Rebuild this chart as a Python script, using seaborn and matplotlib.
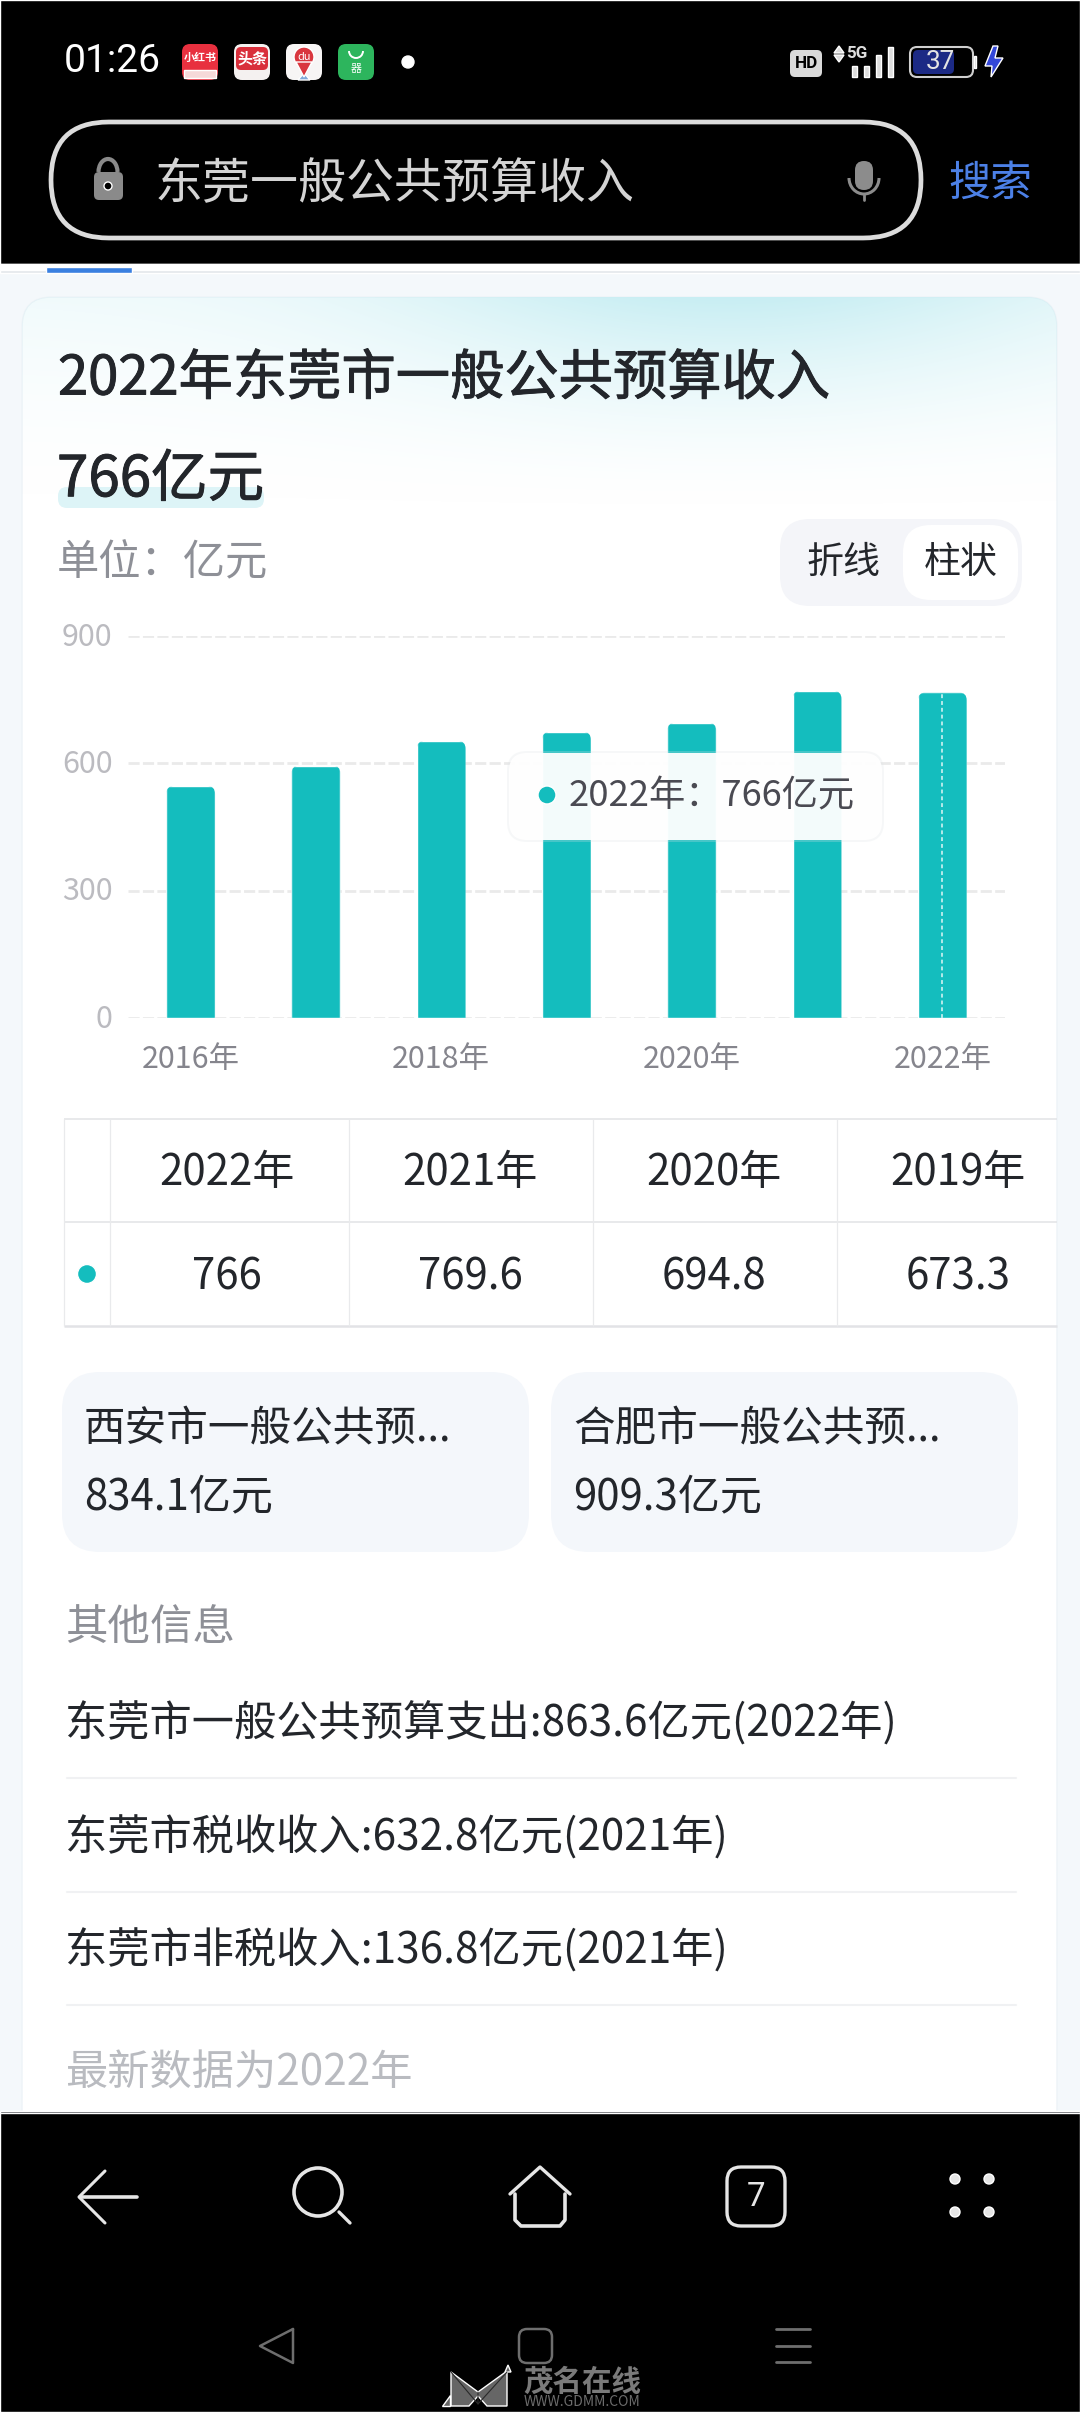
import numpy as np
import pandas as pd
import seaborn as sns
import matplotlib
matplotlib.use("Agg")
import matplotlib.pyplot as plt
import matplotlib.patheffects as pe
from matplotlib.patches import FancyBboxPatch, Circle, Polygon, Rectangle, Arc
from matplotlib.transforms import IdentityTransform, ScaledTranslation

# Revenue series, in 100 million yuan
years = ["2016年", "2017年", "2018年", "2019年", "2020年", "2021年", "2022年"]
revenue = [546.0, 594.0, 652.0, 673.3, 694.8, 769.6, 766.0]
y_ticks = [0, 300, 600, 900]
shown_year_labels = ["2016年", "", "2018年", "", "2020年", "", "2022年"]

# Year table, newest first
table_years = ["2022年", "2021年", "2020年", "2019年"]
table_values = ["766", "769.6", "694.8", "673.3"]

# Related cities and other facts
city_titles = ["西安市一般公共预...", "合肥市一般公共预..."]
city_values = ["834.1亿元", "909.3亿元"]
other_facts = [
    "东莞市一般公共预算支出:863.6亿元(2022年)",
    "东莞市税收收入:632.8亿元(2021年)",
    "东莞市非税收入:136.8亿元(2021年)",
]

TEAL = "#14BDBE"
INK = "#23262B"
MUTED = "#8E9097"
W, H = 1080, 2412
TEXT_DROP = 6  # CJK line boxes sit high when centred, nudge them down

sns.set_theme(style="white")
plt.rcParams["font.family"] = ["Noto Sans CJK SC", "DejaVu Sans"]
plt.rcParams["axes.unicode_minus"] = False

fig = plt.figure(figsize=(W / 100, H / 100), dpi=100, facecolor="#F4F8FB")
MEDIUM = [pe.withStroke(linewidth=0.7, foreground=INK)]


def pixel_axes(zorder):
    a = fig.add_axes([0, 0, 1, 1], zorder=zorder)
    a.set_xlim(0, W)
    a.set_ylim(H, 0)
    a.axis("off")
    a.patch.set_alpha(0)
    return a


bg = pixel_axes(0)
fg = pixel_axes(5)


def text(a, x, y, s, px, color=INK, ha="left", weight="normal", **kw):
    return a.text(x, y + TEXT_DROP, s, fontsize=px * 0.72, color=color, ha=ha, va="center",
                  fontweight=weight, **kw)


def rrect(a, x0, y0, x1, y1, r, fc="none", ec="none", lw=0, zorder=2, **kw):
    p = FancyBboxPatch((x0 + r, y0 + r), x1 - x0 - 2 * r, y1 - y0 - 2 * r,
                       boxstyle=f"round,pad={r},rounding_size={r}",
                       fc=fc, ec=ec, lw=lw, zorder=zorder, **kw)
    a.add_patch(p)
    return p


def stroke(a, xs, ys, color="#E6E6E6", lw=2.0, zorder=6, **kw):
    a.plot(xs, ys, color=color, lw=lw, solid_capstyle="round",
           solid_joinstyle="round", zorder=zorder, **kw)


# Page bands
bg.add_patch(Rectangle((0, 0), W, 264, fc="black", zorder=1))
bg.add_patch(Rectangle((0, 264), W, 6, fc="white", zorder=1))
bg.add_patch(Rectangle((0, 270), W, 3, fc="#E3E7EA", zorder=1))
bg.add_patch(Rectangle((46, 267), 86, 6, fc="#3A80E0", zorder=1.5))

# Card with a soft tinted wash along its top edge
card = rrect(bg, 22, 297, 1057, 2300, 30, fc="white", ec="#EDF3F7", lw=1.0, zorder=1.6)
gy, gx = np.mgrid[297:530, 22:1057]
wash_alpha = np.clip(1 - (gy - 297) / 215, 0, 1) ** 1.7 * (
    0.25 + 0.75 * np.exp(-(((gx - 730) / 340.0) ** 2)))
wash = np.zeros(gx.shape + (4,))
wash[..., :3] = matplotlib.colors.to_rgb("#C8EEF3")
wash[..., 3] = wash_alpha
im = bg.imshow(wash, extent=(22, 1057, 530, 297), aspect="auto", zorder=1.7,
               interpolation="bilinear")
im.set_clip_path(card)
bg.set_xlim(0, W)
bg.set_ylim(H, 0)

# Status bar
text(fg, 64, 56, "01:26", 39, color="white", family="Roboto")

# App badges
rrect(fg, 182, 44, 218, 80, 8, fc="#E8303F", zorder=3)
fg.add_patch(Rectangle((184, 70), 32, 8, fc="#F6D9D9", zorder=3.5))
text(fg, 200, 52, "小红书", 11, color="white", ha="center", weight="bold", zorder=4)
rrect(fg, 234, 44, 270, 80, 8, fc="#F4F1F0", zorder=3)
rrect(fg, 236, 47, 268, 70, 5, fc="#D92F3B", zorder=3.2)
text(fg, 252, 52, "头条", 15, color="white", ha="center", weight="bold", zorder=4)
rrect(fg, 286, 44, 322, 80, 8, fc="#F7F5F5", zorder=3)
fg.add_patch(Circle((304, 57), 10, fc="#D9363E", zorder=3.5))
fg.add_patch(Polygon([(296, 62), (312, 62), (304, 77)], fc="#D9363E", zorder=3.5))
fg.add_patch(Polygon([(298, 80), (310, 80), (304, 73)], fc="#7FA8D8", zorder=3.4))
text(fg, 304, 51, "du", 11, color="white", ha="center", zorder=4)
rrect(fg, 338, 44, 374, 80, 8, fc="#2DB55D", zorder=3)
fg.add_patch(Arc((356, 51), 14, 14, theta1=0, theta2=180, ec="white", lw=1.4, zorder=4,
                 transform=fg.transData))
text(fg, 356, 63, "器", 11, color="white", ha="center", zorder=4)
fg.add_patch(Circle((408, 62), 6, fc="white", zorder=4))

# Status indicators
rrect(fg, 790, 50, 822, 77, 5, fc="#DADADA", zorder=3)
text(fg, 806, 57, "HD", 17, color="black", ha="center", weight="bold", zorder=4, family="Roboto")
text(fg, 846, 47, "5G", 17, color="#DDDDDD", zorder=4, family="Roboto", weight="bold")
fg.add_patch(Polygon([(834, 53), (844, 53), (839, 46)], fc="#DDDDDD", zorder=4))
fg.add_patch(Polygon([(834, 55), (844, 55), (839, 62)], fc="#DDDDDD", zorder=4))
for sx, top in zip((852, 864, 876, 888), (66, 66, 55, 47)):
    fg.add_patch(Rectangle((sx, top), 5, 77 - top, fc="#DDDDDD", zorder=4))
rrect(fg, 910, 47, 973, 77, 7, ec="#CFCFCF", lw=1.5, zorder=3)
rrect(fg, 913, 50, 954, 74, 5, fc="#1C2A85", zorder=3)
fg.add_patch(Rectangle((974, 56), 2, 12, fc="#CFCFCF", zorder=3))
text(fg, 940, 56, "37", 26, color="#E4E4E4", ha="center", zorder=4, family="Roboto")
fg.add_patch(Polygon([(993, 46), (985, 66), (992, 66), (991, 77), (1003, 58), (995, 58), (998, 46)],
                     fc="#3347D8", zorder=4))

# Search bar
rrect(fg, 51, 122, 921, 238, 58, ec="#DCDCDC", lw=3.4, zorder=3)
rrect(fg, 94, 172, 123, 200, 5, fc="#8A8A8A", zorder=3)
fg.add_patch(Arc((108, 172), 19, 26, theta1=180, theta2=360, ec="#8A8A8A", lw=3, zorder=3))
fg.add_patch(Circle((108, 186), 4, fc="black", zorder=4))
text(fg, 155, 178, "东莞一般公共预算收入", 48, color="#D4D4D4")
rrect(fg, 855, 161, 873, 190, 9, fc="#8C8C8C", zorder=3)
fg.add_patch(Arc((864, 178), 30, 32, theta1=0, theta2=180, ec="#8C8C8C", lw=2.2, zorder=3))
stroke(fg, [864, 864], [195, 200], color="#8C8C8C")
text(fg, 948, 178, "搜索", 42, color="#4C80E6")

# Headline
text(fg, 58, 373, "2022年东莞市一般公共预算收入", 54.3, path_effects=MEDIUM)
rrect(bg, 58, 487, 264, 508, 9, fc="#DDF4F7", zorder=2)
text(fg, 57, 474, "766亿元", 56.5, path_effects=MEDIUM)
text(fg, 57, 556, "单位：亿元", 42.3, color=MUTED)

# Chart type switch
rrect(bg, 780, 519, 1022, 606, 30, fc="#F4F5F9", zorder=2)
rrect(bg, 903, 525, 1018, 600, 28, fc="white", zorder=2.2)
text(fg, 844, 556, "折线", 37, ha="center")
text(fg, 961, 556, "柱状", 37, ha="center")

# Bar chart
frame = pd.DataFrame({"year": years, "revenue": revenue})
ax = fig.add_axes([128 / W, 1 - 1018 / H, (1005 - 128) / W, (1018 - 635.5) / H], zorder=2)
sns.barplot(data=frame, x="year", y="revenue", color=TEAL, width=0.39, saturation=1,
            ax=ax, zorder=3)
ax.patch.set_alpha(0)
ax.set_xlim(-0.5, 6.5)
ax.set_ylim(0, 900)
ax.set_yticks(y_ticks)
ax.set_xticks(range(len(years)))
ax.set_xticklabels(shown_year_labels, fontsize=30.5 * 0.72, color="#85858D")
ax.set_yticklabels([str(v) for v in y_ticks], fontsize=30.5 * 0.72, color="#BBBBC0")
ax.set_xlabel("")
ax.set_ylabel("")
ax.tick_params(axis="both", length=0)
ax.tick_params(axis="y", pad=11)
ax.tick_params(axis="x", pad=19)
ax.yaxis.grid(True, color="#EAEAEA", lw=2.0, linestyle=(0, (4, 1.2)), zorder=0)
ax.xaxis.grid(False)
ax.set_axisbelow(True)
for side in ax.spines.values():
    side.set_visible(False)
lift = ScaledTranslation(0, 2 / 100, fig.dpi_scale_trans)
for tick_label in ax.get_yticklabels():
    tick_label.set_transform(tick_label.get_transform() + lift)

# Round the top corners of every bar
fig.canvas.draw()
CORNER = 8
for bar in ax.patches:
    bb = bar.get_window_extent()
    clip = FancyBboxPatch((bb.x0 + CORNER, bb.y0 - 20), bb.width - 2 * CORNER,
                          bb.height + 20 - CORNER,
                          boxstyle=f"round,pad={CORNER},rounding_size={CORNER}",
                          transform=IdentityTransform())
    bar.set_clip_path(clip)

# Crosshair on the selected year
last = len(years) - 1
ax.vlines(last, 0, revenue[last], color="#B5EAEA", lw=1.4, linestyles=(0, (2, 1.5)), zorder=4)

# Tooltip
rrect(fg, 507, 751, 884, 842, 20, fc="#DDE3E6", alpha=0.25, zorder=1.9)
rrect(fg, 509, 753, 882, 840, 18, fc="white", alpha=0.94, zorder=2)
fg.add_patch(Circle((547, 795), 9, fc=TEAL, zorder=4))
text(fg, 569, 790, f"{years[last]}：{revenue[last]:g}亿元", 36.3, color="#4A4A52", zorder=4)

# Year table, cut off at the card's right edge
for ly, lw_ in ((1119, 1.1), (1222, 1.1), (1326, 1.8)):
    bg.plot([64, 1057], [ly, ly], color="#E2E3E6", lw=lw_, zorder=2, solid_capstyle="butt")
for lx in (64, 110, 349, 593, 837):
    bg.plot([lx, lx], [1119, 1326], color="#E9EAEC", lw=0.9, zorder=2, solid_capstyle="butt")
for cx, yr, val in zip((227, 470, 714, 958), table_years, table_values):
    text(fg, cx, 1167, yr, 42, ha="center")
    text(fg, cx, 1271, val, 42, ha="center")
fg.add_patch(Circle((87, 1274), 9.5, fc=TEAL, zorder=4))

# Comparison cards
for x0, title, value in zip((62, 551), city_titles, city_values):
    rrect(bg, x0, 1372, x0 + 467, 1552, 38, fc="#F4F7FB", zorder=2)
    text(fg, x0 + 22, 1424, title, 41.6)
    text(fg, x0 + 22, 1491, value, 42)

# Other information
text(fg, 65.5, 1623, "其他信息", 42.5, color=MUTED)
for fy, fact in zip((1718, 1832, 1945), other_facts):
    text(fg, 64.5, fy, fact, 42.2)
for sy in (1778, 1892, 2005):
    bg.plot([67, 1016], [sy, sy], color="#F0F1F3", lw=1.5, zorder=2)
text(fg, 65.5, 2068, "最新数据为2022年", 42.2, color="#B9BBC0")

# Navigation area
fg.add_patch(Rectangle((0, 2111), W, 301, fc="black", zorder=5))
fg.add_patch(Rectangle((0, 2111), W, 1.5, fc="#3A3D42", zorder=5.5))
stroke(fg, [80, 137], [2197, 2197], lw=2.6)
stroke(fg, [105, 79, 105], [2171, 2197, 2223], lw=2.2)
fg.add_patch(Circle((318, 2192), 24, fc="none", ec="#E6E6E6", lw=2.6, zorder=6))
stroke(fg, [339, 350], [2212, 2223], lw=2.4)
stroke(fg, [510, 540, 570], [2194, 2167, 2194], lw=2.4)
stroke(fg, [515, 515, 521, 560, 565, 565], [2194, 2220, 2226, 2226, 2220, 2194], lw=2.6)
rrect(fg, 727, 2167, 785, 2226, 14, ec="#E6E6E6", lw=2.4, zorder=6)
text(fg, 756, 2191, "7", 33, color="#E6E6E6", ha="center", zorder=6, family="Roboto")
for dx in (955, 989):
    for dy in (2179, 2212):
        fg.add_patch(Circle((dx, dy), 5, fc="#E6E6E6", zorder=6))

# System buttons and watermark
stroke(fg, [293, 260, 293, 293], [2329, 2346, 2363, 2329], color="#6E6E6E", lw=1.8)
rrect(fg, 519, 2329, 552, 2363, 8, ec="#6E6E6E", lw=1.8, zorder=6)
for my in (2329, 2346, 2362):
    stroke(fg, [776, 810], [my, my], color="#6E6E6E", lw=2.0)
fg.add_patch(Polygon([(451, 2406), (451, 2372), (478, 2392), (507, 2371), (507, 2406), (487, 2406),
                      (478, 2396), (469, 2406)], fc="#666666", zorder=6))
fg.add_patch(Polygon([(442, 2406), (450, 2406), (450, 2395)], fc="#666666", zorder=6))
fg.add_patch(Polygon([(508, 2365), (511, 2372), (505, 2372)], fc="#666666", zorder=6))
stroke(fg, [451, 478, 478], [2372, 2404, 2392], color="#2A2A2A", lw=0.8, zorder=6.5)
stroke(fg, [507, 478], [2372, 2404], color="#2A2A2A", lw=0.8, zorder=6.5)
text(fg, 523, 2376, "茂名在线", 29.5, color="#7A7A7A", weight="bold", zorder=6)
text(fg, 524, 2396, "WWW.GDMM.COM", 14, color="#6B6B6B", zorder=6)

fig.savefig("out.png", dpi=100, facecolor=fig.get_facecolor())
